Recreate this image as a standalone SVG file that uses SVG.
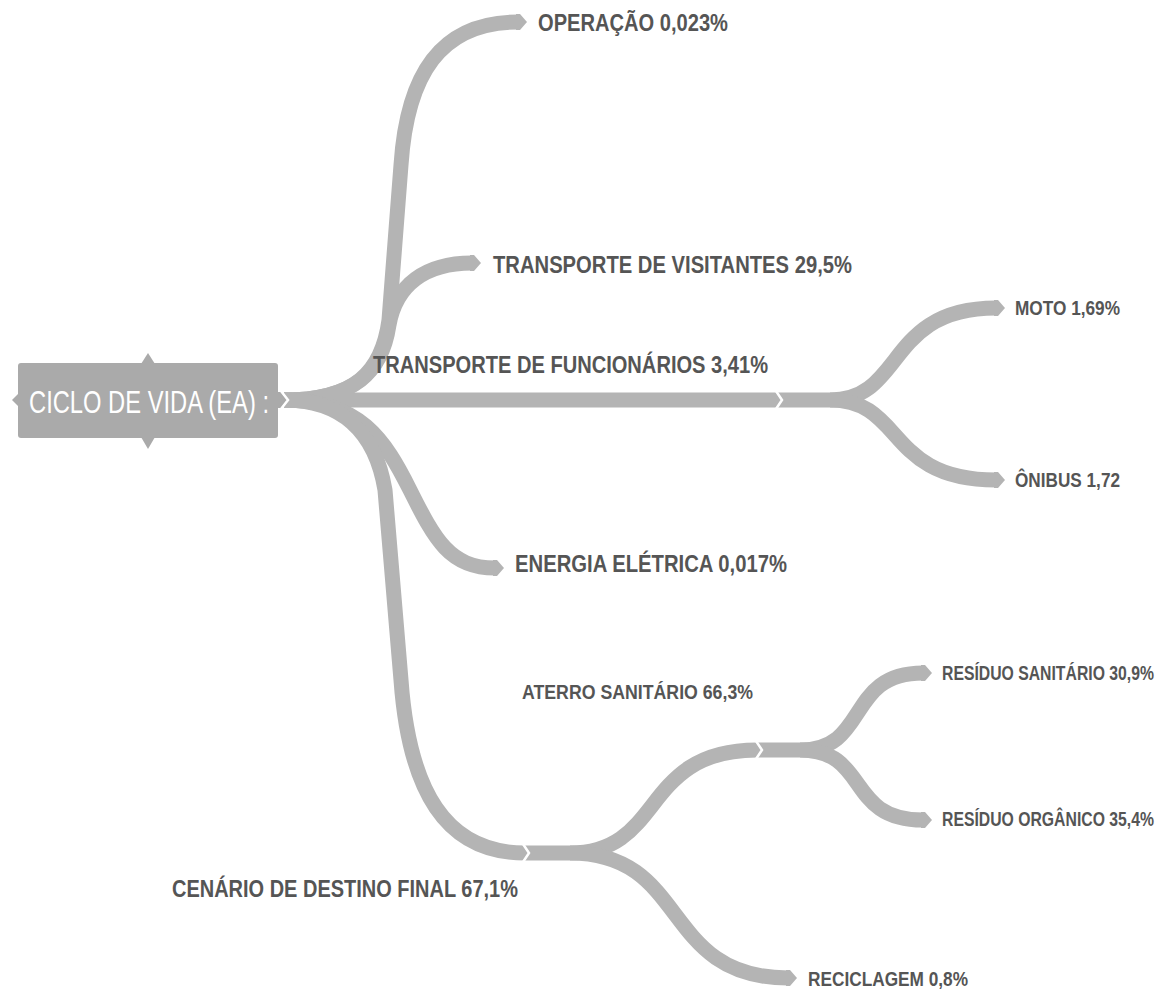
<svg xmlns="http://www.w3.org/2000/svg" width="1173" height="993" viewBox="0 0 1173 993">
  <style>
    .br { fill: none; stroke: #b4b4b4; stroke-width: 15; stroke-linecap: butt; stroke-linejoin: round; }
    .tip { fill: #b4b4b4; }
    .cut { fill: none; stroke: #ffffff; stroke-width: 2.5; stroke-linejoin: miter; }
    .lbl { font-family: "Liberation Sans", Arial, sans-serif; font-weight: 700; fill: #555555; }
    .big { font-size: 24px; }
    .small { font-size: 20px; }
    .root { font-family: "Liberation Sans", Arial, sans-serif; font-size: 32px; fill: #ffffff; }
  </style>

  <rect width="1173" height="993" fill="#ffffff"/>

  <!-- connectors -->
  <g id="connectors">
    <!-- first level: from the central topic -->
    <path class="br" d="M 284 400 C 355 400, 382 372, 389 320 L 401 165 C 407 75, 440 22, 518 22"/>
    <path class="br" d="M 284 400 C 355 400, 382 372, 389 325 C 396 285, 425 263, 472 263"/>
    <path class="br" d="M 284 400 L 830 400"/>
    <path class="br" d="M 284 400 C 360 400, 385 440, 410 490 C 435 540, 450 568, 495 568"/>
    <path class="br" d="M 284 400 C 340 400, 375 430, 385 490 L 401 680 C 409 790, 445 853, 525 853 L 570 853"/>
    <!-- transport sub-branches -->
    <path class="br" d="M 830 400 C 905 400, 885 308, 996 308"/>
    <path class="br" d="M 830 400 C 905 400, 885 480, 996 480"/>
    <!-- final destination sub-branches -->
    <path class="br" d="M 570 853 C 665 853, 640 750, 757 750 L 800 750"/>
    <path class="br" d="M 570 853 C 690 853, 660 978, 788 978"/>
    <!-- landfill sub-branches -->
    <path class="br" d="M 800 750 C 870 750, 845 673, 923 673"/>
    <path class="br" d="M 800 750 C 870 750, 845 820, 923 820"/>

    <!-- pointed ends -->
    <polygon class="tip" points="516,14 520,14 527,22 520,30 516,30"/>
    <polygon class="tip" points="470,255 474,255 481,263 474,271 470,271"/>
    <polygon class="tip" points="493,560 497,560 504,568 497,576 493,576"/>
    <polygon class="tip" points="994,300 998,300 1005,308 998,316 994,316"/>
    <polygon class="tip" points="994,472 998,472 1005,480 998,488 994,488"/>
    <polygon class="tip" points="921,665 925,665 932,673 925,681 921,681"/>
    <polygon class="tip" points="921,812 925,812 932,820 925,828 921,828"/>
    <polygon class="tip" points="786,970 790,970 797,978 790,986 786,986"/>

    <!-- joints between consecutive segments -->
    <polyline class="cut" points="776,391 782,400 776,409"/>
    <polyline class="cut" points="523,844 529,853 523,862"/>
    <polyline class="cut" points="756,741 762,750 756,759"/>
  </g>

  <!-- central topic -->
  <g id="node-root">
    <rect x="18" y="363" width="260" height="75" rx="3" fill="#aaaaaa"/>
    <polygon points="141,364 148,353 155,364" fill="#aaaaaa"/>
    <polygon points="141,437 148,449 155,437" fill="#aaaaaa"/>
    <polygon points="19,393 12,400 19,407" fill="#aaaaaa"/>
    <polygon points="277,392 281,392 287,400 281,408 277,408" fill="#aaaaaa"/>
    <polyline class="cut" points="281,391 288,400 281,409"/>
    <text class="root" x="29" y="413" textLength="240" lengthAdjust="spacingAndGlyphs">CICLO DE VIDA (EA) :</text>
  </g>

  <g id="node-operacao">
    <text class="lbl big" x="538" y="31" textLength="190" lengthAdjust="spacingAndGlyphs">OPERAÇÃO 0,023%</text>
  </g>
  <g id="node-visitantes">
    <text class="lbl big" x="493" y="273" textLength="359" lengthAdjust="spacingAndGlyphs">TRANSPORTE DE VISITANTES 29,5%</text>
  </g>
  <g id="node-funcionarios">
    <text class="lbl big" x="373" y="373" textLength="395" lengthAdjust="spacingAndGlyphs">TRANSPORTE DE FUNCIONÁRIOS 3,41%</text>
  </g>
  <g id="node-moto">
    <text class="lbl small" x="1015" y="315" textLength="105" lengthAdjust="spacingAndGlyphs">MOTO 1,69%</text>
  </g>
  <g id="node-onibus">
    <text class="lbl small" x="1015" y="487" textLength="105" lengthAdjust="spacingAndGlyphs">ÔNIBUS 1,72</text>
  </g>
  <g id="node-energia">
    <text class="lbl big" x="515" y="572" textLength="272" lengthAdjust="spacingAndGlyphs">ENERGIA ELÉTRICA 0,017%</text>
  </g>
  <g id="node-aterro">
    <text class="lbl small" x="522" y="699" textLength="231" lengthAdjust="spacingAndGlyphs">ATERRO SANITÁRIO 66,3%</text>
  </g>
  <!-- narrow labels near the right edge: horizontally condensed -->
  <g id="node-residuo-sanitario">
    <text class="lbl small" transform="translate(942 680) scale(0.8 1)" x="0" y="0" textLength="265" lengthAdjust="spacingAndGlyphs">RESÍDUO SANITÁRIO 30,9%</text>
  </g>
  <g id="node-residuo-organico">
    <text class="lbl small" transform="translate(942 826) scale(0.8 1)" x="0" y="0" textLength="265" lengthAdjust="spacingAndGlyphs">RESÍDUO ORGÂNICO 35,4%</text>
  </g>
  <g id="node-destino">
    <text class="lbl big" x="172" y="897" textLength="346" lengthAdjust="spacingAndGlyphs">CENÁRIO DE DESTINO FINAL 67,1%</text>
  </g>
  <g id="node-reciclagem">
    <text class="lbl small" x="808" y="986" textLength="160" lengthAdjust="spacingAndGlyphs">RECICLAGEM 0,8%</text>
  </g>
</svg>
